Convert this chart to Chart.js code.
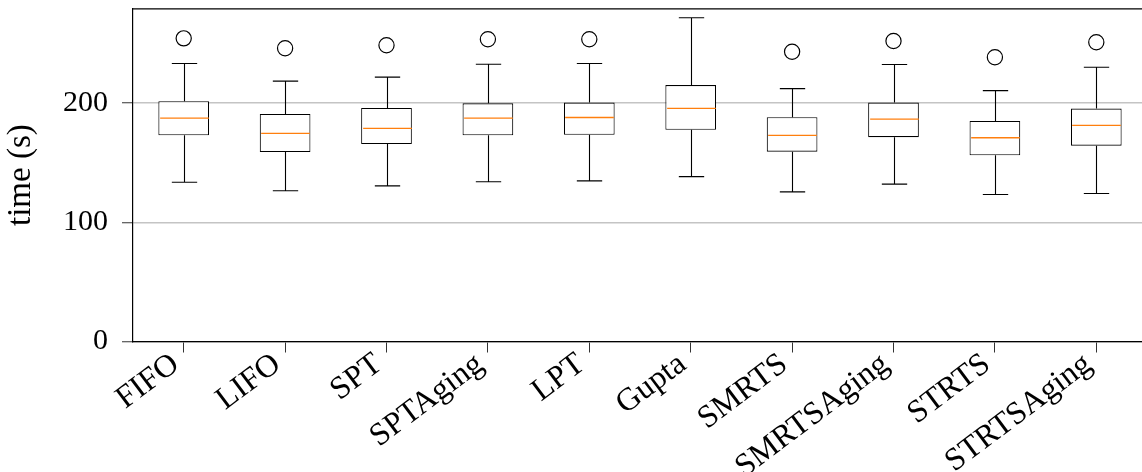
<!DOCTYPE html>
<html>
<head>
<meta charset="utf-8">
<script src="https://cdn.jsdelivr.net/npm/chart.js@4"></script>
<style>
  html, body { margin: 0; padding: 0; background: #fff; overflow: hidden; }
  #wrap { width: 1160px; height: 472px; }
</style>
</head>
<body>
<div id="wrap"><canvas id="chartTiempos"></canvas></div>
<script>
// Datos (segundos)
const schedulers = ['FIFO', 'LIFO', 'SPT', 'SPTAging', 'LPT', 'Gupta', 'SMRTS', 'SMRTSAging', 'STRTS', 'STRTSAging'];
const whiskerLow  = [133.7, 126.5, 130.6, 134.0, 134.8, 138.4, 125.6, 132.1, 123.4, 124.2];
const quartile1   = [173.0, 159.0, 165.7, 173.0, 173.5, 177.6, 159.3, 171.5, 156.3, 164.3];
const medians     = [187.4, 174.6, 178.8, 187.4, 188.0, 195.7, 173.0, 186.6, 171.0, 181.3];
const quartile3   = [201.6, 191.0, 196.0, 199.9, 200.5, 215.2, 188.2, 200.5, 185.1, 195.5];
const whiskerHigh = [233.3, 218.5, 221.9, 232.7, 233.3, 271.7, 212.2, 232.5, 210.5, 230.2];
const outliers    = [254.4, 246.1, 248.6, 253.6, 253.6, null, 243.1, 252.2, 238.6, 251.1];
const yTicks = [0, 100, 200];

Chart.defaults.font.family = "'Liberation Serif', serif";
Chart.defaults.font.size = 30;
Chart.defaults.color = '#000';

// bigotes, topes y medianas
const boxWhiskers = {
    id: 'boxWhiskers',
    afterDatasetsDraw(chart) {
        const { ctx, scales: { x, y } } = chart;
        const meta = chart.getDatasetMeta(0);
        ctx.save();
        meta.data.forEach((bar, i) => {
            const cx = Math.round(x.getPixelForValue(i)) + 0.5;
            const half = bar.width / 2;
            const cap = half / 2;
            const yLo = y.getPixelForValue(whiskerLow[i]);
            const yQ1 = y.getPixelForValue(quartile1[i]);
            const yQ3 = y.getPixelForValue(quartile3[i]);
            const yHi = y.getPixelForValue(whiskerHigh[i]);
            ctx.strokeStyle = '#000';
            ctx.lineWidth = 1.1;
            ctx.beginPath();
            ctx.moveTo(cx, yQ1); ctx.lineTo(cx, yLo);
            ctx.moveTo(cx, yQ3); ctx.lineTo(cx, yHi);
            ctx.moveTo(cx - cap, yLo); ctx.lineTo(cx + cap, yLo);
            ctx.moveTo(cx - cap, yHi); ctx.lineTo(cx + cap, yHi);
            ctx.stroke();
            const yMed = y.getPixelForValue(medians[i]);
            ctx.strokeStyle = '#ff7f0e';
            ctx.lineWidth = 1.3;
            ctx.beginPath();
            ctx.moveTo(cx - half + 1, yMed); ctx.lineTo(cx + half - 1, yMed);
            ctx.stroke();
        });
        ctx.restore();
    },
    afterDraw(chart) {
        const { ctx, chartArea } = chart;
        ctx.save();
        ctx.strokeStyle = '#000';
        ctx.lineWidth = 1.2;
        ctx.beginPath();
        ctx.moveTo(chartArea.left, chartArea.top);
        ctx.lineTo(chartArea.right, chartArea.top);
        ctx.stroke();
        ctx.restore();
    }
};

const ctxTiempos = document.getElementById('chartTiempos');
new Chart(ctxTiempos, {
    type: 'bar',
    data: {
        labels: schedulers,
        datasets: [{
            label: 'caja',
            data: schedulers.map((s, i) => [quartile1[i], quartile3[i]]),
            backgroundColor: '#fff',
            borderColor: '#000',
            borderWidth: 1.1,
            borderSkipped: false,
            categoryPercentage: 1,
            barPercentage: 0.5
        }, {
            type: 'line',
            label: 'atípicos',
            data: outliers,
            showLine: false,
            pointStyle: 'circle',
            pointRadius: 7.6,
            pointBorderWidth: 1.2,
            pointBorderColor: '#000',
            pointBackgroundColor: 'rgba(0,0,0,0)'
        }]
    },
    options: {
        responsive: true,
        maintainAspectRatio: false,
        animation: false,
        layout: { padding: { top: 7, right: 13, left: 0, bottom: 0 } },
        plugins: {
            legend: { display: false },
            tooltip: { enabled: false }
        },
        scales: {
            x: {
                offset: true,
                grid: { drawOnChartArea: false, offset: false, tickLength: 11, tickColor: '#333', tickWidth: 1 },
                border: { color: '#000', width: 1.2 },
                ticks: { autoSkip: false, minRotation: 37, maxRotation: 37, padding: -7, labelOffset: -8, font: { size: 32 } },
                afterFit(scale) {
                    scale.height = 130.5;
                    scale.paddingLeft = 0;
                    scale.paddingRight = 0;
                }
            },
            y: {
                min: 0,
                max: 279.2,
                afterBuildTicks(scale) { scale.ticks = yTicks.map(v => ({ value: v })); },
                grid: { color: '#c4c4c4', lineWidth: 1.5, tickLength: 11, tickColor: '#333', tickWidth: 1 },
                border: { color: '#000', width: 1.2 },
                ticks: { padding: 14 },
                title: { display: true, text: 'time (s)', font: { size: 33 }, padding: { top: 2, bottom: 0 } },
                afterFit(scale) {
                    scale.width = 133;
                    scale.paddingTop = 0;
                    scale.paddingBottom = 0;
                }
            }
        }
    },
    plugins: [boxWhiskers]
});
</script>
</body>
</html>
